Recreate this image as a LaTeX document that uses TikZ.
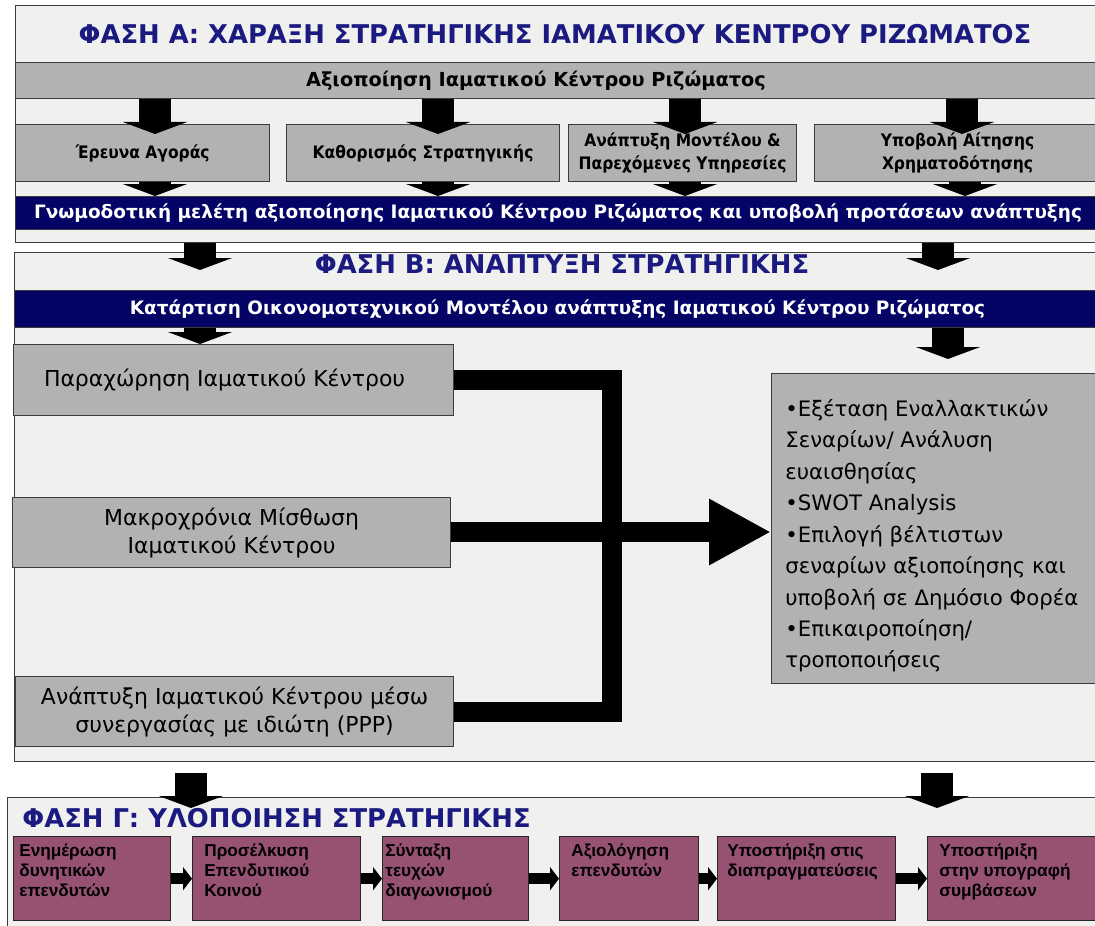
\documentclass[tikz,border=0pt]{standalone}
\usepackage{fontspec}
\setmainfont{DejaVu Sans}
\newfontfamily\narrowsans[FakeStretch=0.9]{DejaVu Sans}
\newfontfamily\arialfont{Liberation Sans}
\usetikzlibrary{arrows.meta}

\definecolor{framebg}{RGB}{240,241,239}
\definecolor{boxgray}{RGB}{178,178,178}
\definecolor{barblue}{RGB}{4,4,102}
\definecolor{titleblue}{RGB}{26,26,128}
\definecolor{plum}{RGB}{150,81,115}
\definecolor{edge}{RGB}{60,60,60}

\tikzset{
  frame/.style={draw=edge,fill=framebg,line width=0.7pt,anchor=north west,inner sep=0pt},
  greybox/.style={draw=edge,fill=boxgray,line width=0.7pt,anchor=north west,inner sep=0pt},
  bluebar/.style={draw=edge,fill=barblue,line width=0.7pt,anchor=north west,inner sep=0pt,
    text=white,font=\fontsize{10.5}{12}\selectfont\bfseries},
  plumbox/.style={draw=black!85,fill=plum,line width=0.8pt,anchor=north west,inner sep=0pt,
    minimum height=1.68cm},
  phasetitle/.style={text=titleblue,font=\fontsize{14.7}{17}\selectfont\bfseries,inner sep=0pt},
  rowtext/.style={font=\narrowsans\fontsize{9.8}{13}\selectfont\bfseries,align=center},
  plaintext/.style={font=\fontsize{12.5}{16}\selectfont,align=center},
  plumtext/.style={font=\arialfont\fontsize{9.8}{11.4}\selectfont\bfseries,align=left,
    anchor=north west,inner sep=0pt},
  fatarr/.style={line width=0.64cm,-{Triangle[width=1.28cm,length=0.24cm]}},
  slimarr/.style={line width=0.22cm,-{Triangle[width=0.46cm,length=0.18cm]}},
  bracket/.style={line width=0.4cm},
  bigarr/.style={line width=0.4cm,-{Triangle[width=1.24cm,length=1.24cm]}},
}

\begin{document}
\begin{tikzpicture}[x=0.02cm,y=-0.02cm]
\useasboundingbox (0,0) rectangle (1095,926);
\clip (0,0) rectangle (1095,926);
\fill[white] (0,0) rectangle (1095,926);

% phase A
\node[frame,minimum width=21.7cm,minimum height=4.74cm] (fa) at (15,5) {};
\node[phasetitle] (ta) at (555,34) {ΦΑΣΗ Α: ΧΑΡΑΞΗ ΣΤΡΑΤΗΓΙΚΗΣ ΙΑΜΑΤΙΚΟΥ ΚΕΝΤΡΟΥ ΡΙΖΩΜΑΤΟΣ};
\node[greybox,minimum width=21.7cm,minimum height=0.72cm] (bara) at (15,62) {};
\node[font=\fontsize{11}{12}\selectfont\bfseries] (bart) at ([xshift=-0.44cm]bara.center)
  {Αξιοποίηση Ιαματικού Κέντρου Ριζώματος};
\node[greybox,rowtext,minimum width=5.08cm,minimum height=1.14cm] (a1) at (15,124) {Έρευνα Αγοράς};
\node[greybox,rowtext,minimum width=5.46cm,minimum height=1.14cm] (a2) at (286,124) {Καθορισμός Στρατηγικής};
\node[greybox,rowtext,minimum width=4.56cm,minimum height=1.14cm] (a3) at (568,124)
  {Ανάπτυξη Μοντέλου \&\\Παρεχόμενες Υπηρεσίες};
\node[greybox,rowtext,minimum width=5.72cm,minimum height=1.14cm] (a4) at (814,124)
  {Υποβολή Αίτησης\\Χρηματοδότησης};
\node[bluebar,minimum width=21.7cm,minimum height=0.66cm] (blue1) at (15,196)
  {Γνωμοδοτική μελέτη αξιοποίησης Ιαματικού Κέντρου Ριζώματος και υποβολή προτάσεων ανάπτυξης};
\draw[fatarr,shorten >=-0.2cm] (bara.south -| 155,0) -- (a1.north -| 155,0);
\draw[fatarr,shorten >=-0.2cm] (bara.south -| 438,0) -- (a2.north -| 438,0);
\draw[fatarr,shorten >=-0.2cm] (bara.south -| 685,0) -- (a3.north -| 685,0);
\draw[fatarr,shorten >=-0.2cm] (bara.south -| 962,0) -- (a4.north -| 962,0);
\draw[fatarr] (a1.south -| 155,0) -- (blue1.north -| 155,0);
\draw[fatarr] (a2.south -| 438,0) -- (blue1.north -| 438,0);
\draw[fatarr] (a3.south -| 685,0) -- (blue1.north -| 685,0);
\draw[fatarr] (a4.south -| 965,0) -- (blue1.north -| 965,0);

% phase B
\node[frame,minimum width=21.72cm,minimum height=10.18cm] (fb) at (14,252) {};
\draw[fatarr,shorten >=-0.36cm] (fa.south -| 200,0) -- (fb.north -| 200,0);
\draw[fatarr,shorten >=-0.36cm] (fa.south -| 938,0) -- (fb.north -| 938,0);
\node[phasetitle] (tb) at (562,264) {ΦΑΣΗ Β: ΑΝΑΠΤΥΞΗ ΣΤΡΑΤΗΓΙΚΗΣ};
\node[bluebar,minimum width=21.72cm,minimum height=0.74cm] (blue2) at (14,290)
  {Κατάρτιση Οικονομοτεχνικού Μοντέλου ανάπτυξης Ιαματικού Κέντρου Ριζώματος};
\node[greybox,plaintext,minimum width=8.8cm,minimum height=1.42cm] (p1) at (13,344)
  {Παραχώρηση Ιαματικού Κέντρου\hspace*{0.36cm}};
\node[greybox,plaintext,minimum width=8.76cm,minimum height=1.4cm] (p2) at (12,497)
  {Μακροχρόνια Μίσθωση\\Ιαματικού Κέντρου};
\node[greybox,plaintext,minimum width=8.76cm,minimum height=1.4cm] (p3) at (15,676)
  {Ανάπτυξη Ιαματικού Κέντρου μέσω\\συνεργασίας με ιδιώτη (PPP)};
\node[greybox,minimum width=6.6cm,minimum height=6.2cm] (opts) at (771,373) {};
\node[font=\fontsize{12.1}{17.9}\selectfont,align=left,anchor=north west,inner sep=0pt] (optt)
  at (785,399) {•Εξέταση Εναλλακτικών\\Σεναρίων/ Ανάλυση\\ευαισθησίας\\•SWOT Analysis\\
  •Επιλογή βέλτιστων\\σεναρίων αξιοποίησης και\\υποβολή σε Δημόσιο Φορέα\\
  •Επικαιροποίηση/\\τροποποιήσεις};
\draw[fatarr] (blue2.south -| 200,0) -- (p1.north -| 200,0);
\draw[fatarr,shorten >=-0.3cm] (blue2.south -| 948,0) -- (p1.north -| 948,0);
\coordinate (jn) at (612,532);
\draw[bracket] (p1.east) -| (jn |- p3.east) -- (p3.east);
\draw[bigarr] (p2.east |- jn) -- (opts.west |- jn);

% phase C
\node[frame,minimum width=21.86cm,minimum height=2.8cm] (fc) at (7,797) {};
\node[phasetitle,anchor=west] (tc) at (22,818) {ΦΑΣΗ Γ: ΥΛΟΠΟΙΗΣΗ ΣΤΡΑΤΗΓΙΚΗΣ};
\draw[fatarr,shorten <=0.22cm,shorten >=-0.22cm] (fb.south -| 191,0) -- (fc.north -| 191,0);
\draw[fatarr,shorten <=0.22cm,shorten >=-0.22cm] (fb.south -| 937,0) -- (fc.north -| 937,0);
\node[plumbox,minimum width=3.14cm] (c1) at (13,836) {};
\node[plumbox,minimum width=3.36cm] (c2) at (192,836) {};
\node[plumbox,minimum width=2.92cm] (c3) at (382,836) {};
\node[plumbox,minimum width=2.78cm] (c4) at (559,836) {};
\node[plumbox,minimum width=3.56cm] (c5) at (717,836) {};
\node[plumbox,minimum width=3.46cm] (c6) at (927,836) {};
\draw[slimarr] (c1.east) -- (c2.west);
\draw[slimarr] (c2.east) -- (c3.west);
\draw[slimarr] (c3.east) -- (c4.west);
\draw[slimarr] (c4.east) -- (c5.west);
\draw[slimarr] (c5.east) -- (c6.west);
\node[plumtext] (ct1) at ([xshift=0.12cm,yshift=-0.14cm]c1.north west) {Ενημέρωση\\δυνητικών\\επενδυτών};
\node[plumtext] (ct2) at ([xshift=0.24cm,yshift=-0.14cm]c2.north west) {Προσέλκυση\\Επενδυτικού\\Κοινού};
\node[plumtext] (ct3) at ([xshift=0.06cm,yshift=-0.14cm]c3.north west) {Σύνταξη\\τευχών\\διαγωνισμού};
\node[plumtext] (ct4) at ([xshift=0.24cm,yshift=-0.14cm]c4.north west) {Αξιολόγηση\\επενδυτών};
\node[plumtext] (ct5) at ([xshift=0.2cm,yshift=-0.14cm]c5.north west) {Υποστήριξη στις\\διαπραγματεύσεις};
\node[plumtext] (ct6) at ([xshift=0.24cm,yshift=-0.14cm]c6.north west) {Υποστήριξη\\στην υπογραφή\\συμβάσεων};
\end{tikzpicture}
\end{document}
